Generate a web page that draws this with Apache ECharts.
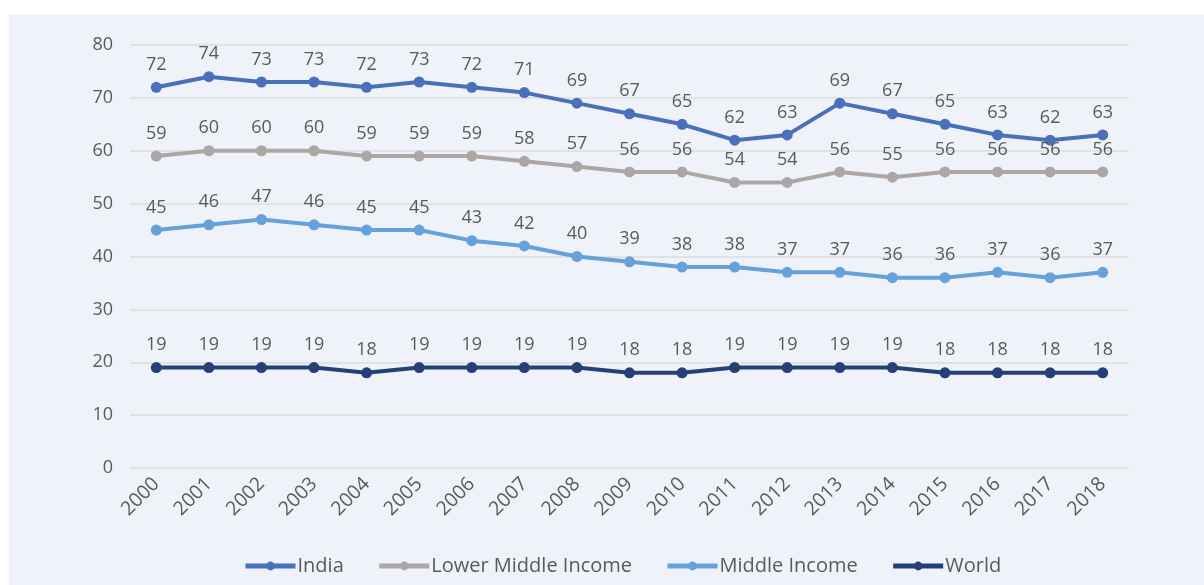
<!DOCTYPE html>
<html><head><meta charset="utf-8">
<script src="https://cdn.jsdelivr.net/npm/echarts@6/dist/echarts.min.js"></script>
<style>html,body{margin:0;padding:0;background:#fff}#c{width:1204px;height:585px}</style>
</head><body><div id="c"></div>
<script>
const years = ['2000','2001','2002','2003','2004','2005','2006','2007','2008','2009','2010','2011','2012','2013','2014','2015','2016','2017','2018'];
const india = [72,74,73,73,72,73,72,71,69,67,65,62,63,69,67,65,63,62,63];
const lowerMiddle = [59,60,60,60,59,59,59,58,57,56,56,54,54,56,55,56,56,56,56];
const middle = [45,46,47,46,45,45,43,42,40,39,38,38,37,37,36,36,37,36,37];
const world = [19,19,19,19,18,19,19,19,19,18,18,19,19,19,19,18,18,18,18];
const FONT = 'Open Sans';
const TXT = '#5a5a5a';
function mk(name, data, color){
  return {name, type:'line', data, color, symbol:'circle', symbolSize:11,
    lineStyle:{width:4, color}, itemStyle:{color},
    label:{show:true, position:'top', distance:8, color:TXT, fontSize:18, fontFamily:FONT}};
}
const chart = echarts.init(document.getElementById('c'));
chart.setOption({
  animation:false,
  backgroundColor:'#ffffff',
  graphic:[{type:'rect', z:-10, silent:true, shape:{x:9,y:14,width:1195,height:571}, style:{fill:'#eff2f9'}}],
  grid:{left:130, right:75, top:45, bottom:117, containLabel:false},
  legend:{bottom:4, left:238, itemWidth:50, itemHeight:11, itemGap:33,
    lineStyle:{width:5},
    textStyle:{color:TXT, fontSize:20, fontFamily:FONT, padding:[0,0,0,-3]},
    data:['India','Lower Middle Income','Middle Income','World']},
  xAxis:{type:'category', data:years, boundaryGap:true,
    axisLine:{show:false}, axisTick:{show:false},
    axisLabel:{rotate:45, color:TXT, fontSize:19.5, fontFamily:FONT, margin:13}},
  yAxis:{type:'value', min:0, max:80, interval:10,
    axisLine:{show:false}, axisTick:{show:false},
    splitLine:{lineStyle:{color:'#dcdcdc', width:1.5}},
    axisLabel:{color:TXT, fontSize:18, fontFamily:FONT, margin:17}},
  series:[mk('India', india, '#4a6fbb'), mk('Lower Middle Income', lowerMiddle, '#aca7a5'),
    mk('Middle Income', middle, '#66a1da'), mk('World', world, '#253f79')]
});
</script></body></html>
